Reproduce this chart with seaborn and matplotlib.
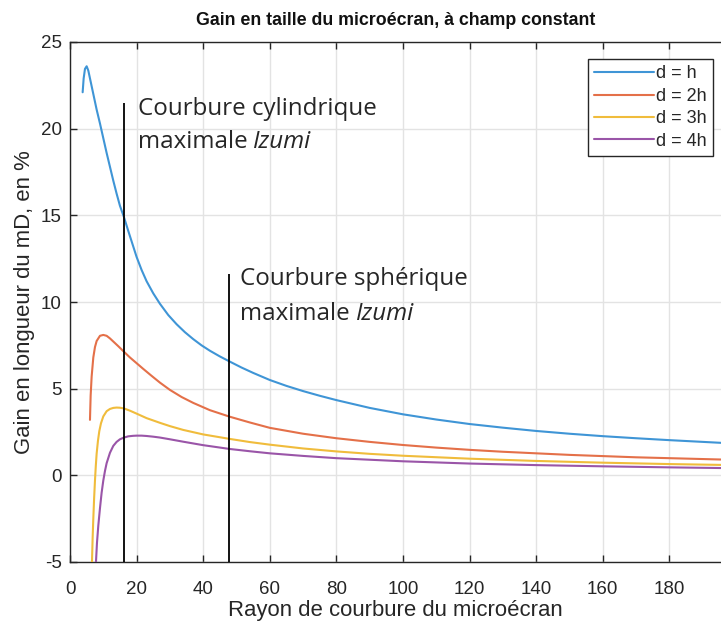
import numpy as np
import pandas as pd
import seaborn as sns
import matplotlib
matplotlib.use('Agg')
import matplotlib.pyplot as plt

# Valeurs (rayon de courbure -> gain en %)
x_h = [3.8, 4.1, 4.5, 5.0, 5.5, 6, 7, 8, 9, 10, 11, 12, 13, 14, 15, 16.2, 17.5, 19, 20,
       21.5, 23, 25, 27, 29.5, 32, 34.5, 37, 39.5, 42, 45, 48, 51.5, 55, 60, 65, 70, 75,
       80, 90, 100, 110, 120, 130, 140, 150, 160, 170, 180, 196]
y_h = [22.1, 22.9, 23.45, 23.6, 23.35, 22.9, 22.0, 21.1, 20.3, 19.45, 18.6, 17.8, 17.0,
       16.25, 15.55, 14.9, 14.1, 13.2, 12.6, 11.85, 11.2, 10.5, 9.9, 9.25, 8.72, 8.26,
       7.86, 7.5, 7.19, 6.86, 6.56, 6.22, 5.91, 5.5, 5.16, 4.86, 4.59, 4.34, 3.89, 3.52,
       3.22, 2.96, 2.75, 2.56, 2.40, 2.26, 2.14, 2.03, 1.87]

x_2h = [6.0, 6.2, 6.5, 7, 7.5, 8, 9, 10, 11, 12, 13, 14.5, 16.2, 18, 20, 22, 24.5, 27,
        30, 33.5, 37, 42, 48, 54, 60, 70, 80, 90, 100, 110, 120, 130, 140, 150, 160, 170,
        180, 196]
y_2h = [3.2, 4.6, 5.7, 6.8, 7.4, 7.75, 8.05, 8.1, 8.05, 7.9, 7.72, 7.45, 7.13, 6.8,
        6.47, 6.14, 5.74, 5.35, 4.93, 4.52, 4.18, 3.76, 3.38, 3.05, 2.74, 2.4, 2.14, 1.93,
        1.75, 1.6, 1.47, 1.36, 1.27, 1.18, 1.11, 1.04, 0.99, 0.91]

x_3h = [6.6, 6.8, 7.0, 7.25, 7.5, 7.75, 8.0, 8.4, 8.8, 9.3, 10, 11, 12, 13, 14, 15, 16.2,
        18, 20, 23, 27, 30, 34, 40, 48, 54, 60, 70, 80, 90, 100, 120, 140, 160, 180, 196]
y_3h = [-5, -3.6, -2.5, -1.3, -0.3, 0.55, 1.25, 2.0, 2.55, 3.0, 3.4, 3.7, 3.83, 3.89,
        3.91, 3.9, 3.86, 3.73, 3.56, 3.3, 3.03, 2.84, 2.62, 2.36, 2.1, 1.92, 1.77, 1.55,
        1.38, 1.24, 1.13, 0.96, 0.83, 0.73, 0.65, 0.6]

x_4h = [7.8, 8.1, 8.5, 9, 9.5, 10, 10.5, 11, 12, 13, 14, 15, 16.2, 17.5, 19, 20, 21.5,
        23, 25, 27, 30, 34, 40, 48, 54, 60, 70, 80, 90, 100, 120, 140, 160, 180, 196]
y_4h = [-5, -3.9, -2.9, -1.9, -1.0, -0.3, 0.25, 0.7, 1.3, 1.7, 1.93, 2.08, 2.18, 2.25,
        2.28, 2.29, 2.29, 2.27, 2.23, 2.18, 2.08, 1.94, 1.74, 1.52, 1.39, 1.27, 1.12, 0.99,
        0.9, 0.81, 0.68, 0.59, 0.52, 0.46, 0.42]

labels = ['d = h', 'd = 2h', 'd = 3h', 'd = 4h']
couleurs = ['#3F95D6', '#E47049', '#F0BC3C', '#9A55A8']

# rayons max Izumi
r_cyl, top_cyl = 16.2, 21.5
r_sph, top_sph = 47.8, 11.6

df = pd.concat([
    pd.DataFrame({'R': x_h, 'gain': y_h, 'cas': labels[0]}),
    pd.DataFrame({'R': x_2h, 'gain': y_2h, 'cas': labels[1]}),
    pd.DataFrame({'R': x_3h, 'gain': y_3h, 'cas': labels[2]}),
    pd.DataFrame({'R': x_4h, 'gain': y_4h, 'cas': labels[3]}),
])

sns.set_style('ticks')
plt.rcParams['font.family'] = ['Liberation Sans', 'DejaVu Sans']
plt.rcParams['axes.unicode_minus'] = False

fig = plt.figure(figsize=(7.21, 6.24), dpi=100)
ax = fig.add_axes([70 / 721, 1 - 562 / 624, 1 - 70 / 721, (562 - 42) / 624])

sns.lineplot(data=df, x='R', y='gain', hue='cas', palette=couleurs, linewidth=1.5,
             sort=False, ax=ax, zorder=3)

ax.vlines([r_cyl, r_sph], -5, [top_cyl, top_sph], color='black', linewidth=1.3, zorder=4)

fnt = ['Open Sans', 'DejaVu Sans']
fs = 17.4
ax.text(20.3, 20.8, 'Courbure cylindrique', fontsize=fs, family=fnt)
t1 = ax.text(20.3, 18.9, 'maximale ', fontsize=fs, family=fnt)
ax.annotate('Izumi', xy=(1, 0), xycoords=t1, va='bottom', ha='left', fontsize=fs,
            family=fnt, style='italic')
ax.text(51.0, 10.98, 'Courbure sphérique', fontsize=fs, family=fnt)
t2 = ax.text(51.0, 8.96, 'maximale ', fontsize=fs, family=fnt)
ax.annotate('Izumi', xy=(1, 0), xycoords=t2, va='bottom', ha='left', fontsize=fs,
            family=fnt, style='italic')

ax.set_xlim(0, 195.5)
ax.set_ylim(-5, 25)
ax.set_xticks(np.arange(0, 181, 20))
ax.set_yticks(np.arange(-5, 26, 5))
ax.grid(True, color='#E3E3E3', linewidth=1)
ax.set_axisbelow(True)
ax.tick_params(direction='in', length=5, width=1, color='#262626', labelsize=13.5,
               labelcolor='#262626', top=True, pad=6)
ax.tick_params(axis='x', pad=14)
for s in ['left', 'bottom', 'top']:
    ax.spines[s].set_color('#262626')
    ax.spines[s].set_linewidth(1)
ax.spines['right'].set_visible(False)

ax.set_xlabel('Rayon de courbure du microécran', fontsize=15.9, color='#262626',
              labelpad=1)
ax.set_ylabel('Gain en longueur du mD, en %', fontsize=15.9, color='#262626',
              labelpad=4)
ax.set_title('Gain en taille du microécran, à champ constant', fontsize=12.8,
             fontweight='bold', color='#111111', pad=12)

leg = ax.legend(loc='upper right', bbox_to_anchor=(0.988, 0.967), fontsize=13,
                frameon=True, fancybox=False, edgecolor='#262626', framealpha=1,
                handlelength=3.3, handletextpad=0.15, borderpad=0.35, labelspacing=0.3,
                borderaxespad=0)
leg.get_frame().set_linewidth(1)
leg.set_title(None)

fig.savefig('out.png', dpi=100)
